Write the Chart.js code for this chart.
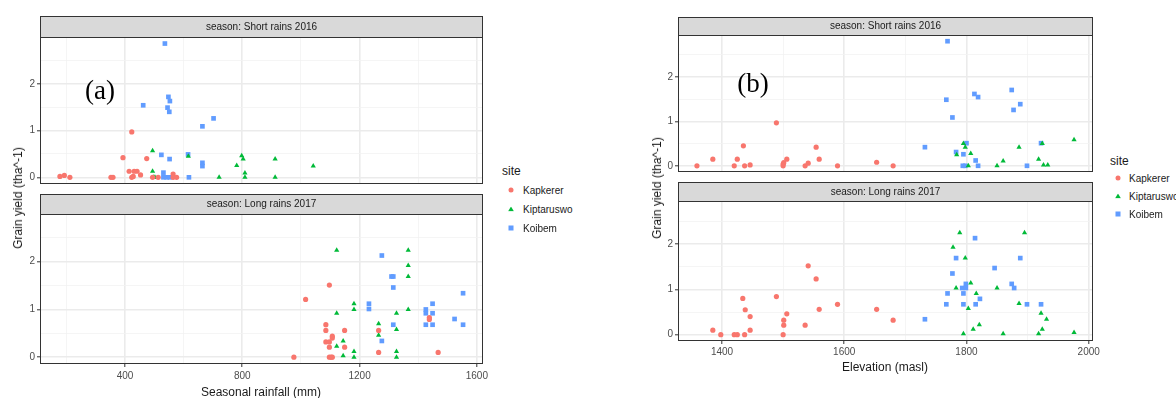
<!DOCTYPE html>
<html>
<head>
<meta charset="utf-8">
<script src="https://cdn.jsdelivr.net/npm/chart.js@4"></script>
<style>
  body { margin: 0; width: 1176px; height: 398px; background: #fff; position: relative; overflow: hidden;
         font-family: "Liberation Sans", Arial, sans-serif; }
  canvas { position: absolute; }
  .txt { position: absolute; white-space: nowrap; color: #1a1a1a; }
  .ytitle { font-size: 12px; transform: translate(-50%, -50%) rotate(-90deg); }
  .xtitle { font-size: 12px; transform: translate(-50%, -50%); }
  .tag { font-family: "Liberation Serif", "Times New Roman", serif; font-size: 27px; color: #000; transform: translate(-50%, -50%); }
  .legtitle { font-size: 12px; transform: translateY(-50%); }
  .legitem { font-size: 10px; transform: translateY(-50%); }
  .mk { position: absolute; transform: translate(-50%, -50%); }
</style>
</head>
<body>
<canvas id="aShort" width="495" height="178" style="left:0;top:14px"></canvas>
<canvas id="aLong" width="495" height="208" style="left:0;top:190px"></canvas>
<canvas id="bShort" width="470" height="168" style="left:640px;top:12px"></canvas>
<canvas id="bLong" width="470" height="220" style="left:640px;top:178px"></canvas>

<div class="txt ytitle" style="left:18px;top:198px">Grain yield (tha^-1)</div>
<div class="txt xtitle" style="left:261px;top:392px">Seasonal rainfall (mm)</div>
<div class="txt ytitle" style="left:657px;top:188px">Grain yield (tha^-1)</div>
<div class="txt xtitle" style="left:885px;top:367px">Elevation (masl)</div>
<div class="txt tag" style="left:100px;top:90px">(a)</div>
<div class="txt tag" style="left:753px;top:83px">(b)</div>
<div id="legends"></div>

<script>
// sites and colours (ggplot default hues)
const sites = ["Kapkerer", "Kiptaruswo", "Koibem"];
const siteColors = ["#F8766D", "#00BA38", "#619CFF"];
const siteShapes = ["circle", "triangle", "rect"];
const siteRadius = [2.6, 3.0, 3.3];

// (a) grain yield vs seasonal rainfall (mm), points as [rainfall, yield]
const aShortKapkerer = [[178,0.02],[193,0.04],[212,0],[352,0],[359,0],[393,0.42],[423,0.97],[414,0.13],[431,0.13],[441,0.13],
  [423,0],[428,0.02],[453,0.05],[474,0.40],[494,0],[513,0],[564,0.07],[564,0],[576,0]];
const aShortKiptaruswo = [[494,0.57],[494,0.13],[502,0],[497,0],[616,0.45],[721,0],[781,0.25],[798,0.46],[803,0.39],[809,0.09],
  [809,0],[912,0.39],[912,0],[1042,0.24]];
const aShortKoibem = [[536,2.86],[462,1.54],[548,1.72],[553,1.63],[545,1.49],[551,1.40],[664,1.09],[702,1.26],[524,0.48],[552,0.39],
  [615,0.49],[664,0.31],[664,0.24],[531,0.10],[531,0],[542,0],[553,0],[618,0]];
const aLongKapkerer = [[976,0],[1016,1.21],[1097,1.51],[1085,0.68],[1085,0.56],[1107,0.44],[1107,0.40],[1085,0.32],[1097,0.32],[1097,0.21],
  [1149,0.56],[1149,0.21],[1097,0],[1103,0],[1107,0],[1265,0.56],[1265,0.10],[1438,0.83],[1438,0.79],[1468,0.10]];
const aLongKiptaruswo = [[1122,2.24],[1366,2.24],[1366,1.92],[1366,1.69],[1181,1.12],[1181,1.0],[1122,0.92],[1326,0.92],[1366,1.0],[1265,0.70],
  [1326,0.58],[1265,0.46],[1144,0.34],[1122,0.23],[1181,0.12],[1144,0.03],[1181,0],[1326,0.12],[1326,0]];
const aLongKoibem = [[1276,2.13],[1309,1.69],[1315,1.69],[1315,1.46],[1232,1.12],[1232,1.01],[1315,0.68],[1276,0.34],[1426,1.0],[1449,1.12],
  [1426,0.92],[1449,0.92],[1426,0.68],[1449,0.68],[1524,0.80],[1553,1.34],[1553,0.68]];

// (b) grain yield vs elevation (masl)
const bShortKapkerer = [[1359,0],[1385,0.15],[1420,0],[1425,0.15],[1435,0.45],[1437,0],[1446,0.02],[1489,0.97],[1500,0.04],[1501,0.07],
  [1500,0],[1506,0.15],[1536,0],[1541,0.06],[1554,0.42],[1559,0.15],[1589,0],[1653,0.08],[1680,0]];
const bShortKiptaruswo = [[1795,0.50],[1798,0.42],[1784,0.25],[1807,0.28],[1803,0],[1850,0],[1860,0.11],[1886,0.42],[1918,0.15],[1924,0.50],
  [1926,0.02],[1933,0.02],[1976,0.59]];
const bShortKoibem = [[1769,2.81],[1767,1.49],[1813,1.62],[1819,1.55],[1874,1.71],[1888,1.39],[1877,1.26],[1777,1.09],[1732,0.42],[1800,0.51],
  [1783,0.31],[1795,0.26],[1815,0.12],[1794,0],[1798,0],[1819,0],[1899,0],[1922,0.51]];
const bLongKapkerer = [[1385,0.10],[1398,0],[1420,0],[1425,0],[1434,0.80],[1438,0.55],[1446,0.40],[1437,0],[1446,0.10],[1489,0.84],
  [1501,0.32],[1501,0.21],[1500,0],[1506,0.46],[1536,0.21],[1541,1.52],[1554,1.23],[1559,0.56],[1589,0.67],[1653,0.56],[1680,0.32]];
const bLongKiptaruswo = [[1789,2.25],[1895,2.25],[1778,1.93],[1798,1.69],[1807,1.14],[1783,1.03],[1850,1.03],[1816,0.91],[1886,0.69],[1803,0.58],
  [1922,0.47],[1931,0.34],[1821,0.22],[1811,0.12],[1924,0.12],[1795,0.02],[1860,0.02],[1918,0.02],[1976,0.05]];
const bLongKoibem = [[1814,2.13],[1783,1.69],[1888,1.69],[1846,1.47],[1777,1.35],[1799,1.12],[1793,1.03],[1799,1.03],[1769,0.91],[1795,0.91],
  [1822,0.79],[1767,0.67],[1795,0.67],[1815,0.67],[1874,1.12],[1878,1.03],[1899,0.67],[1922,0.67],[1732,0.34]];

// tick labels
const aXMajor = [400, 800, 1200, 1600];
const aXMinor = [200, 600, 1000, 1400];
const bXMajor = [1400, 1600, 1800, 2000];
const bXMinor = [1500, 1700, 1900];
const yMajor = [0, 1, 2];
const yMinor = [0.5, 1.5, 2.5];

Chart.defaults.font.family = '"Liberation Sans", Arial, sans-serif';

const stripPlugin = {
  id: "strip",
  afterDraw(chart, args, opts) {
    const ctx = chart.ctx, a = chart.chartArea;
    ctx.save();
    ctx.fillStyle = "#D9D9D9";
    ctx.fillRect(a.left, a.top - opts.h, a.right - a.left, opts.h);
    ctx.strokeStyle = "#333333";
    ctx.lineWidth = 1;
    ctx.strokeRect(a.left + 0.5, a.top - opts.h + 0.5, a.right - a.left - 1, opts.h);
    ctx.strokeRect(a.left + 0.5, a.top + 0.5, a.right - a.left - 1, a.bottom - a.top - 1);
    ctx.fillStyle = "#1A1A1A";
    ctx.font = '10px "Liberation Sans", Arial, sans-serif';
    ctx.textAlign = "center";
    ctx.textBaseline = "middle";
    ctx.fillText(opts.text, (a.left + a.right) / 2, a.top - opts.h / 2 + 0.5);
    ctx.restore();
  }
};

function makeFacet(id, f) {
  const xTicks = f.xMajor.concat(f.xMinor).sort((p, q) => p - q);
  const yTicks = yMajor.concat(yMinor).sort((p, q) => p - q);
  const datasets = f.series.map((pts, i) => ({
    label: sites[i],
    data: pts.map(p => ({ x: p[0], y: p[1] })),
    pointStyle: siteShapes[i],
    pointRadius: siteRadius[i],
    backgroundColor: siteColors[i],
    borderColor: siteColors[i],
    borderWidth: 0
  }));
  return new Chart(document.getElementById(id), {
    type: "scatter",
    data: { datasets: datasets },
    options: {
      responsive: false,
      animation: false,
      events: [],
      layout: { padding: f.pad },
      plugins: { legend: { display: false }, tooltip: { enabled: false }, strip: { text: f.strip, h: f.stripH } },
      scales: {
        x: {
          type: "linear", min: f.xRange[0], max: f.xRange[1],
          afterBuildTicks: s => { s.ticks = xTicks.map(v => ({ value: v })); },
          afterFit: s => { s.height = f.showX ? 20 : 0; },
          border: { display: false },
          grid: {
            color: c => f.xMajor.includes(c.tick.value) ? "#EBEBEB" : "#F3F3F3",
            lineWidth: c => f.xMajor.includes(c.tick.value) ? 1.6 : 0.8,
            drawTicks: f.showX, tickLength: 3, tickWidth: 1,
            tickColor: c => f.xMajor.includes(c.tick.value) ? "#333333" : "rgba(0,0,0,0)"
          },
          ticks: {
            display: f.showX, padding: f.xPad, color: "#4D4D4D", font: { size: 10 },
            autoSkip: false, maxRotation: 0,
            callback: v => f.xMajor.includes(v) ? String(v) : ""
          }
        },
        y: {
          type: "linear", min: f.yRange[0], max: f.yRange[1],
          afterBuildTicks: s => { s.ticks = yTicks.map(v => ({ value: v })); },
          afterFit: s => { s.width = f.yWidth; },
          border: { display: false },
          grid: {
            color: c => yMajor.includes(c.tick.value) ? "#EBEBEB" : "#F3F3F3",
            lineWidth: c => yMajor.includes(c.tick.value) ? 1.6 : 0.8,
            tickLength: 3, tickWidth: 1,
            tickColor: c => yMajor.includes(c.tick.value) ? "#333333" : "rgba(0,0,0,0)"
          },
          ticks: {
            padding: 2, color: "#4D4D4D", font: { size: 10 }, autoSkip: false,
            callback: v => yMajor.includes(v) ? String(v) : ""
          }
        }
      }
    },
    plugins: [stripPlugin]
  });
}

makeFacet("aShort", {
  series: [aShortKapkerer, aShortKiptaruswo, aShortKoibem], strip: "season: Short rains 2016", stripH: 21,
  xRange: [110, 1621], yRange: [-0.143, 3.0], xMajor: aXMajor, xMinor: aXMinor,
  showX: false, xPad: 3, yWidth: 40, pad: { top: 23, right: 12, bottom: 4, left: 0 }
});
makeFacet("aLong", {
  series: [aLongKapkerer, aLongKiptaruswo, aLongKoibem], strip: "season: Long rains 2017", stripH: 20,
  xRange: [110, 1621], yRange: [-0.143, 3.0], xMajor: aXMajor, xMinor: aXMinor,
  showX: true, xPad: 3, yWidth: 40, pad: { top: 24, right: 12, bottom: 14, left: 0 }
});
makeFacet("bShort", {
  series: [bShortKapkerer, bShortKiptaruswo, bShortKoibem], strip: "season: Short rains 2016", stripH: 18,
  xRange: [1328, 2007], yRange: [-0.14, 2.95], xMajor: bXMajor, xMinor: bXMinor,
  showX: false, xPad: 2, yWidth: 38, pad: { top: 23, right: 17, bottom: 5, left: 0 }
});
makeFacet("bLong", {
  series: [bLongKapkerer, bLongKiptaruswo, bLongKoibem], strip: "season: Long rains 2017", stripH: 19,
  xRange: [1328, 2007], yRange: [-0.14, 2.95], xMajor: bXMajor, xMinor: bXMinor,
  showX: true, xPad: 2, yWidth: 38, pad: { top: 23, right: 17, bottom: 37, left: 0 }
});

// legends (one per figure)
function legend(titleX, titleY, markX, textX, rows) {
  const box = document.getElementById("legends");
  let html = '<div class="txt legtitle" style="left:' + titleX + 'px;top:' + titleY + 'px">site</div>';
  sites.forEach((s, i) => {
    const y = rows[i];
    let shape;
    if (i === 0) shape = "width:5px;height:5px;border-radius:50%;background:" + siteColors[0];
    else if (i === 1) shape = "width:6px;height:5px;clip-path:polygon(50% 0,100% 100%,0 100%);background:" + siteColors[1];
    else shape = "width:5px;height:5px;background:" + siteColors[2];
    html += '<div class="mk" style="left:' + markX + 'px;top:' + y + 'px;' + shape + '"></div>';
    html += '<div class="txt legitem" style="left:' + textX + 'px;top:' + y + 'px">' + s + '</div>';
  });
  box.insertAdjacentHTML("beforeend", html);
}
legend(502, 171, 511, 523, [190, 209, 228]);
legend(1110, 161, 1118, 1129, [178, 196, 214]);
</script>
</body>
</html>
